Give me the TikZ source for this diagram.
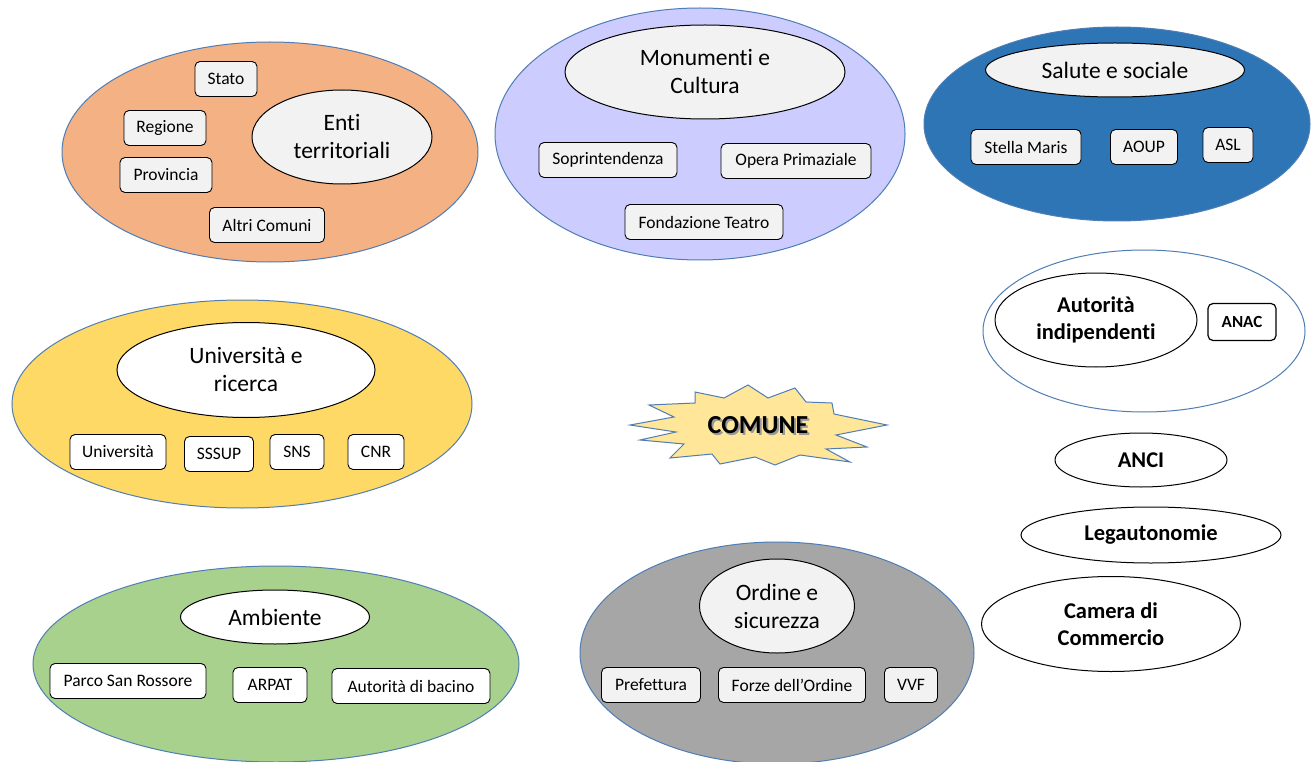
\documentclass[tikz,border=0pt]{standalone}
\usepackage{fontspec}
\setmainfont[Ligatures=NoCommon]{Carlito}
\usetikzlibrary{shapes.geometric}
\definecolor{obl}{HTML}{4F7DB5}
\definecolor{cOrange}{HTML}{F4B183}
\definecolor{cPurple}{HTML}{CCCCFF}
\definecolor{cBlue}{HTML}{2E75B6}
\definecolor{cYellow}{HTML}{FFD966}
\definecolor{cGreen}{HTML}{A9D18E}
\definecolor{cGray}{HTML}{A6A6A6}
\definecolor{cLight}{HTML}{F2F2F2}
\definecolor{cStar}{HTML}{FFE699}
\tikzset{
  outer/.style={ellipse, draw=obl, line width=1pt, inner sep=0pt},
  inner/.style={ellipse, draw=black, line width=1pt, inner sep=0pt, align=center, font=\fontsize{23.5}{28}\selectfont},
  box/.style={rounded corners=5pt, draw=black, line width=0.9pt, minimum height=35, inner sep=2pt, font=\fontsize{17.5}{20}\selectfont},
  boldell/.style={ellipse, draw=black, line width=1pt, fill=white, inner sep=0pt, align=center, font=\fontsize{22.5}{27}\selectfont\bfseries},
}
\begin{document}
\begin{tikzpicture}[x=1pt,y=-1pt]
\useasboundingbox[fill=white] (0,0) rectangle (1312,762);

% Enti territoriali
\node[outer, fill=cOrange, minimum width=416, minimum height=220] (o1) at (270,152) {};
\node[inner, fill=cLight, minimum width=180, minimum height=94] (i1) at (342,137) {Enti\\territoriali};
\node[box, fill=cLight, minimum width=62] (stato) at (226,79) {Stato};
\node[box, fill=cLight, minimum width=82] (regione) at (165,128) {Regione};
\node[box, fill=cLight, minimum width=92] (provincia) at (166,175) {Provincia};
\node[box, fill=cLight, minimum width=115] (altri) at (267,225) {Altri Comuni};

% Monumenti
\node[outer, fill=cPurple, minimum width=410, minimum height=252] (o2) at (700,134) {};
\node[inner, fill=cLight, minimum width=280, minimum height=94] (i2) at (705,72) {Monumenti e\\Cultura};
\node[box, fill=cLight, minimum width=138] (sopr) at (608,160) {Soprintendenza};
\node[box, fill=cLight, minimum width=150] (opera) at (796,161) {Opera Primaziale};
\node[box, fill=cLight, minimum width=158] (fond) at (704,222) {Fondazione Teatro};

% Salute
\node[outer, fill=cBlue, minimum width=386, minimum height=194] (o3) at (1117,124) {};
\node[inner, fill=cLight, minimum width=259, minimum height=54] (i3) at (1115,70) {Salute e sociale};
\node[box, fill=cLight, minimum width=110] (stella) at (1026,147) {Stella Maris};
\node[box, fill=cLight, minimum width=67] (aoup) at (1144,147) {AOUP};
\node[box, fill=cLight, minimum width=50] (asl) at (1228,145) {ASL};

% Autorita indipendenti
\node[outer, fill=white, minimum width=322, minimum height=162] (o4) at (1144,331) {};
\node[boldell, minimum width=202, minimum height=94] (i4) at (1096,320) {Autorità\\indipendenti};
\node[box, fill=white, minimum width=68, minimum height=37, line width=1.2pt, font=\fontsize{17}{20}\selectfont\bfseries] (anac) at (1242,322) {ANAC};

\node[boldell, minimum width=172, minimum height=54] (anci) at (1141,460) {ANCI};
\node[boldell, minimum width=260, minimum height=56] (lega) at (1151,535) {Legautonomie};
\node[boldell, minimum width=259, minimum height=95] (camera) at (1111,624) {Camera di\\Commercio};

% Universita
\node[outer, fill=cYellow, minimum width=460, minimum height=208] (o5) at (242,404) {};
\node[inner, fill=white, minimum width=258, minimum height=95] (i5) at (246,370) {Università e\\ricerca};
\node[box, fill=white, minimum width=96] (univ) at (118,452) {Università};
\node[box, fill=white, minimum width=69] (sssup) at (219,454) {SSSUP};
\node[box, fill=white, minimum width=54] (sns) at (297,452) {SNS};
\node[box, fill=white, minimum width=56] (cnr) at (376,452) {CNR};

% Ambiente
\node[outer, fill=cGreen, minimum width=486, minimum height=196] (o6) at (276,664) {};
\node[inner, fill=white, minimum width=189, minimum height=54] (i6) at (275,617) {Ambiente};
\node[box, fill=white, minimum width=156] (parco) at (128,681) {Parco San Rossore};
\node[box, fill=white, minimum width=74] (arpat) at (270,685) {ARPAT};
\node[box, fill=white, minimum width=158] (bacino) at (411,686) {Autorità di bacino};

% Ordine e sicurezza
\node[outer, fill=cGray, minimum width=394, minimum height=222] (o7) at (777,653) {};
\node[inner, fill=cLight, minimum width=155, minimum height=94] (i7) at (777,606) {Ordine e\\sicurezza};
\node[box, fill=cLight, minimum width=99] (pref) at (651,685) {Prefettura};
\node[box, fill=cLight, minimum width=147] (forze) at (792,685) {Forze dell’Ordine};
\node[box, fill=cLight, minimum width=53] (vvf) at (911,685) {VVF};

% COMUNE starburst
\filldraw[fill=cStar, draw=obl, line width=1pt, line join=miter]
  (630,425) -- (674,417) -- (649,405) -- (695,403) -- (695,392) -- (724,398)
  -- (748,385) -- (768,398) -- (795,388) -- (806,402) -- (832,403) -- (834,414)
  -- (887,425) -- (836,435) -- (867,447) -- (826,449) -- (850,462) -- (800,455)
  -- (775,465) -- (755,457) -- (720,464) -- (712,454) -- (670,458) -- (684,444)
  -- (640,440) -- (676,432) -- cycle;
\node[font=\fontsize{26}{30}\selectfont\bfseries, text=black!40] (comshadow) at (760,427) {COMUNE};
\node[font=\fontsize{26}{30}\selectfont\bfseries] (comune) at (758,425) {COMUNE};
\end{tikzpicture}
\end{document}
